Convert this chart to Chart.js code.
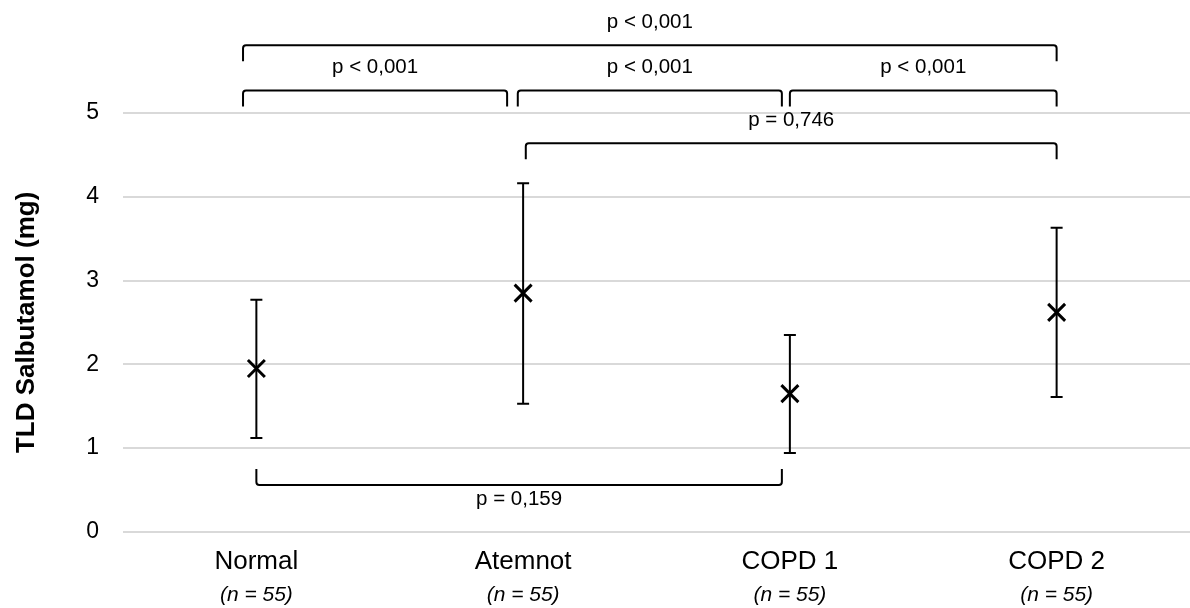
<!DOCTYPE html>
<html>
<head>
<meta charset="utf-8">
<script src="https://cdn.jsdelivr.net/npm/chart.js@4"></script>
<style>
  html, body { margin: 0; padding: 0; background: #fff; overflow: hidden; }
  #wrap { width: 1190px; height: 608px; }
</style>
</head>
<body>
<div id="wrap"><canvas id="myChart"></canvas></div>
<script>
const categories = ["Normal", "Atemnot", "COPD 1", "COPD 2"];
const groupSizes = ["(n = 55)", "(n = 55)", "(n = 55)", "(n = 55)"];
const means = [1.95, 2.85, 1.65, 2.62];
const lowerBounds = [1.12, 1.53, 0.94, 1.61];
const upperBounds = [2.77, 4.16, 2.35, 3.63];
const yTicks = [0, 1, 2, 3, 4, 5];

// comparisons: [from index, to index, level (mg), label, label below?]
const comparisons = [
  [-0.05, 3.0, 5.81, "p < 0,001", false],
  [-0.05, 0.94, 5.27, "p < 0,001", false],
  [0.98, 1.97, 5.27, "p < 0,001", false],
  [2.0, 3.0, 5.27, "p < 0,001", false],
  [1.01, 3.0, 4.64, "p = 0,746", false],
  [0.0, 1.97, 0.56, "p = 0,159", true],
];

const FONT = "'Liberation Sans', Arial, sans-serif";

const errorBars = {
  id: "errorBars",
  afterDatasetsDraw(chart) {
    const { ctx, scales: { x, y } } = chart;
    ctx.save();
    ctx.strokeStyle = "#000";
    ctx.lineWidth = 2;
    means.forEach((m, i) => {
      const px = x.getPixelForValue(i);
      const top = y.getPixelForValue(upperBounds[i]);
      const bot = y.getPixelForValue(lowerBounds[i]);
      ctx.beginPath();
      ctx.moveTo(px, top); ctx.lineTo(px, bot);
      ctx.moveTo(px - 6, top); ctx.lineTo(px + 6, top);
      ctx.moveTo(px - 6, bot); ctx.lineTo(px + 6, bot);
      ctx.stroke();
    });
    ctx.restore();
  }
};

const brackets = {
  id: "brackets",
  afterDraw(chart) {
    const { ctx, scales: { x, y } } = chart;
    ctx.save();
    ctx.strokeStyle = "#000";
    ctx.lineWidth = 2;
    ctx.fillStyle = "#000";
    ctx.font = "20.5px " + FONT;
    ctx.textAlign = "center";
    ctx.textBaseline = "middle";
    comparisons.forEach(([a, b, level, label, below]) => {
      const x1 = x.getPixelForValue(a);
      const x2 = x.getPixelForValue(b);
      const py = y.getPixelForValue(level);
      const drop = below ? -16 : 16;
      const r = 3;
      ctx.beginPath();
      ctx.moveTo(x1, py + drop);
      ctx.arcTo(x1, py, x1 + r, py, r);
      ctx.arcTo(x2, py, x2, py + drop, r);
      ctx.lineTo(x2, py + drop);
      ctx.stroke();
      ctx.fillText(label, (x1 + x2) / 2, below ? py + 14 : py - 23);
    });
    ctx.restore();
  }
};

const groupLabels = {
  id: "groupLabels",
  afterDraw(chart) {
    const { ctx, scales: { x } } = chart;
    ctx.save();
    ctx.fillStyle = "#000";
    ctx.font = "italic 21px " + FONT;
    ctx.textAlign = "center";
    ctx.textBaseline = "middle";
    groupSizes.forEach((t, i) => {
      ctx.fillText(t, x.getPixelForValue(i), 595);
    });
    ctx.restore();
  }
};

const chartCtx = document.getElementById("myChart").getContext("2d");
new Chart(chartCtx, {
  type: "line",
  data: {
    labels: categories,
    datasets: [{
      data: means,
      showLine: false,
      pointStyle: "crossRot",
      pointRadius: 12,
      pointHoverRadius: 12,
      borderColor: "#000",
      borderWidth: 3,
      backgroundColor: "#000",
    }],
  },
  options: {
    responsive: true,
    maintainAspectRatio: false,
    animation: false,
    layout: { autoPadding: false, padding: { top: 113, right: 0, bottom: 31, left: 0 } },
    plugins: { legend: { display: false }, tooltip: { enabled: false } },
    scales: {
      x: {
        offset: true,
        grid: { color: "rgba(0,0,0,0)", tickLength: 14 },
        border: { display: false },
        ticks: { color: "#000", font: { family: FONT, size: 26 }, padding: 0 },
      },
      y: {
        min: 0,
        max: 5,
        afterBuildTicks: (axis) => { axis.ticks = yTicks.map(v => ({ value: v })); },
        grid: { color: "#d9d9d9", lineWidth: 2, drawTicks: false },
        border: { display: false },
        ticks: { color: "#000", font: { family: FONT, size: 23 }, padding: 24 },
        title: {
          display: true,
          text: "TLD Salbutamol (mg)",
          color: "#000",
          font: { family: FONT, size: 26, weight: "bold" },
          padding: { top: 11, bottom: 20 },
        },
      },
    },
  },
  plugins: [errorBars, brackets, groupLabels],
});
</script>
</body>
</html>
